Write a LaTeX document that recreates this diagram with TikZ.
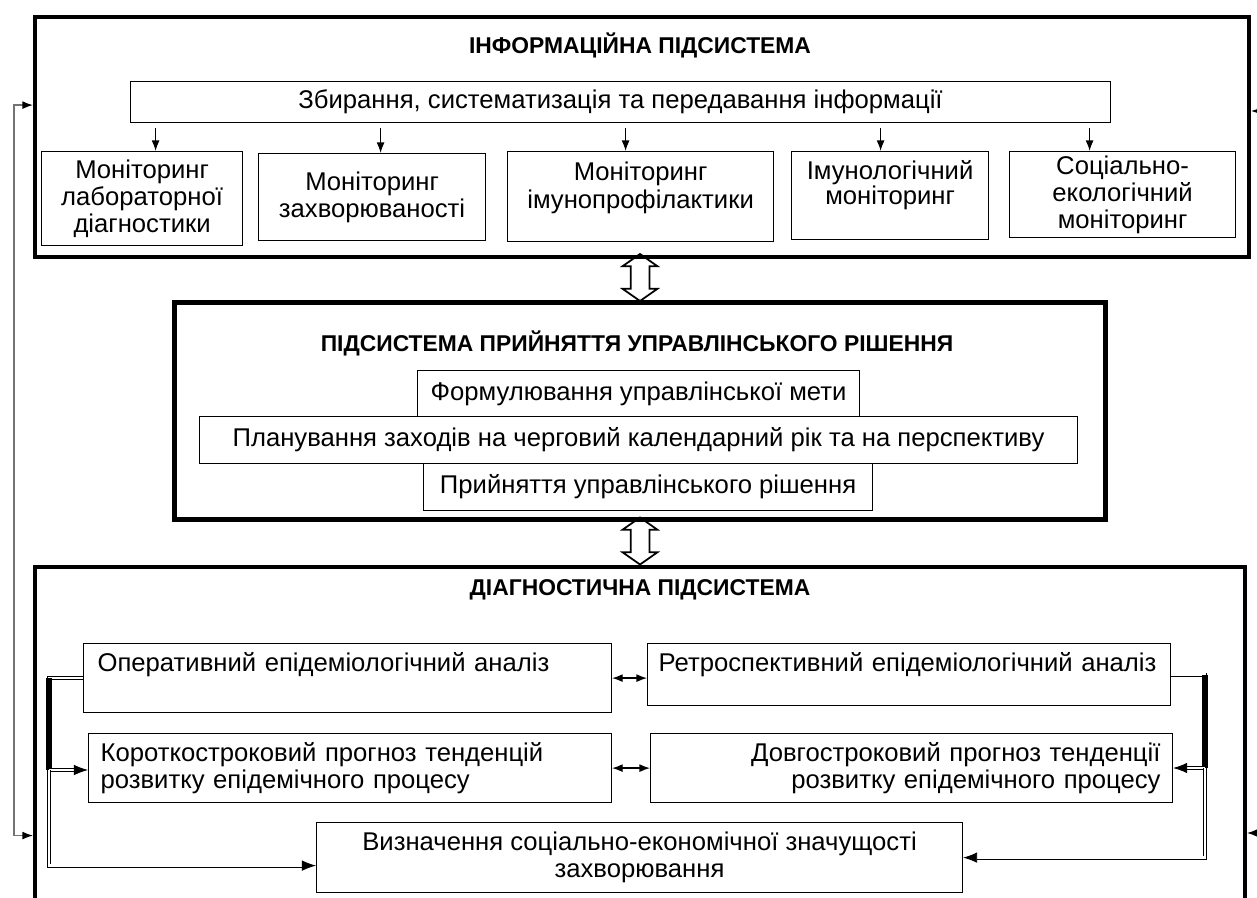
\documentclass[tikz,border=0pt]{standalone}
\usepackage{fontspec}
\setmainfont{Liberation Sans}
\usetikzlibrary{arrows.meta,positioning,shapes.arrows}

\begin{document}
\begin{tikzpicture}[x=0.02cm, y=-0.02cm, >=Latex,
  frame/.style={draw, line width=2.4pt, anchor=north west, inner sep=0pt},
  box/.style={draw, line width=0.7pt, anchor=north west, align=center, inner sep=0pt, font=\fontsize{14.6}{15.5}\selectfont},
  head/.style={font=\fontsize{13}{15}\selectfont\bfseries},
  edge/.style={->, line width=0.7pt, >={Latex[length=6pt,width=4.5pt]}},
  both/.style={<->, line width=0.7pt, >={Latex[length=6pt,width=4.5pt]}},
  fback/.style={<->, line width=0.8pt, draw=black!55, >={Latex[length=6pt,width=4.5pt,color=black]}},
  pass/.style={double, double distance=1.3pt, line width=0.5pt, >={Latex[length=8pt,width=6pt]}},
  bar/.style={line width=3.2pt},
  hollow/.style={double arrow, draw, line width=1pt, rotate=90, inner xsep=0pt, inner ysep=0.17cm, minimum height=0.94cm, double arrow head extend=0.16cm, double arrow tip angle=110}
]
\useasboundingbox (0,0) rectangle (1257,898);
% information subsystem
\node[frame, minimum width=24.28cm, minimum height=4.8cm] (info) at (33,15) {};
\node[head] (infoT) at (640,45) {ІНФОРМАЦІЙНА ПІДСИСТЕМА};
\node[box, minimum width=19.6cm, minimum height=0.82cm] (zbir) at (130,81) {Збирання, систематизація та передавання інформації};
\node[box, minimum width=4.02cm, minimum height=1.88cm] (m1) at (41,151) {Моніторинг\\лабораторної\\діагностики};
\node[box, minimum width=4.54cm, minimum height=1.74cm] (m2) at (258,153) {Моніторинг\\захворюваності};
\node[box, minimum width=5.32cm, minimum height=1.8cm,
  label={[anchor=north, align=center, inner sep=0pt, font=\fontsize{14.6}{15.5}\selectfont, yshift=-0.22cm]north:Моніторинг\\імунопрофілактики}] (m3) at (507,151) {};
\node[box, minimum width=3.94cm, minimum height=1.76cm,
  label={[anchor=north, align=center, inner sep=0pt, font=\fontsize{14.6}{14.5}\selectfont, yshift=-0.18cm]north:Імунологічний\\моніторинг}] (m4) at (791,151) {};
\node[box, minimum width=4.52cm, minimum height=1.72cm] (m5) at (1009,151) {Соціально-\\екологічний\\моніторинг};
\draw[edge, shorten <=3pt] ([xshift=0.27cm]m1.north |- zbir.south) -- ([xshift=0.27cm]m1.north);
\draw[edge, shorten <=3pt] ([xshift=0.17cm]m2.north |- zbir.south) -- ([xshift=0.17cm]m2.north);
\draw[edge, shorten <=3pt] ([xshift=-0.3cm]m3.north |- zbir.south) -- ([xshift=-0.3cm]m3.north);
\draw[edge, shorten <=3pt] ([xshift=-0.19cm]m4.north |- zbir.south) -- ([xshift=-0.19cm]m4.north);
\draw[edge, shorten <=3pt] ([xshift=-0.66cm]m5.north |- zbir.south) -- ([xshift=-0.66cm]m5.north);

% decision subsystem
\node[frame, line width=2.7pt, minimum width=18.62cm, minimum height=4.34cm] (dec) at (172,300) {};
\node[head] (decT) at (637,343) {ПІДСИСТЕМА ПРИЙНЯТТЯ УПРАВЛІНСЬКОГО РІШЕННЯ};
\node[box, minimum width=8.84cm, minimum height=0.92cm] (goal) at (417,370) {Формулювання управлінської мети};
\node[box, minimum width=17.56cm, minimum height=0.94cm] (plan) at (199,416) {Планування заходів на черговий календарний рік та на перспективу};
\node[box, minimum width=8.98cm, minimum height=0.94cm] (dcsn) at (423,463) {Прийняття управлінського рішення};

% diagnostic subsystem
\node[frame, minimum width=24.2cm, minimum height=6.9cm] (diag) at (33,565) {};
\node[head] (diagT) at (640,590) {ДІАГНОСТИЧНА ПІДСИСТЕМА};
\node[box, align=left, inner xsep=0.28cm, text width=10cm, text height=0.56cm, text depth=0.82cm] (oper) at (83,643) {Оперативний епідеміологічний аналіз};
\node[box, align=left, inner xsep=0.22cm, text width=10.02cm, text height=0.56cm, text depth=0.68cm] (retro) at (647,643) {Ретроспективний епідеміологічний аналіз};
\node[box, align=left, inner xsep=0.24cm, text width=9.98cm, minimum height=1.38cm] (short) at (88,733) {Короткостроковий прогноз тенденцій\\розвитку епідемічного процесу};
\node[box, align=right, inner xsep=0.24cm, text width=9.96cm, minimum height=1.38cm] (long) at (650,733) {Довгостроковий прогноз тенденції\\розвитку епідемічного процесу};
\node[box, minimum width=12.92cm, minimum height=1.4cm] (cost) at (316,822) {Визначення соціально-економічної значущості\\захворювання};
\draw[both] (oper.east) -- (oper.east -| retro.west);
\draw[both] (short.east) -- (long.west);
\coordinate (lk) at (49,770);
\coordinate (rk) at (1205,768);
\draw[pass] (oper.west) -| (lk);
\draw[bar] (oper.west -| lk) -- (lk);
\draw[pass, ->] (lk) -- (lk -| short.west);
\draw[pass, ->] (lk) |- ([yshift=-0.16cm]cost.west);
\draw[pass] (retro.east) -| (rk);
\draw[bar] (retro.east -| rk) -- (rk);
\draw[pass, ->] (rk) -- (rk -| long.east);
\draw[pass, ->] (rk) |- (cost.east);

% links between subsystems
\node[hollow] (up) at (640,277.5) {};
\node[hollow] (down) at (640,541) {};
\coordinate (fbl) at (14,500);
\draw[fback] ([yshift=0.64cm]info.west) -| (fbl) |- ([yshift=-1.92cm]diag.west);
\coordinate (inA) at (1257,111);
\coordinate (inB) at (1257,833);
\draw[edge] (inA) -- (inA -| info.east);
\draw[edge] (inB) -- (inB -| diag.east);
\end{tikzpicture}
\end{document}
